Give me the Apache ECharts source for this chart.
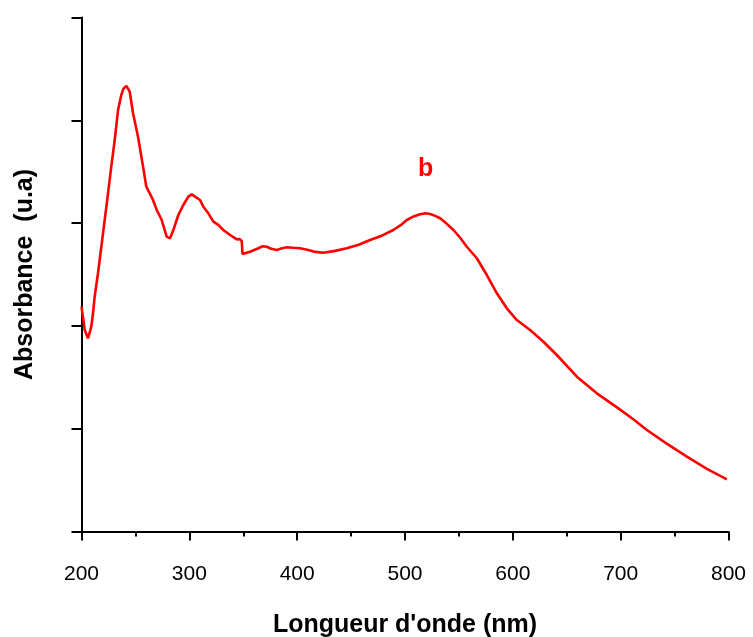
<!DOCTYPE html>
<html>
<head>
<meta charset="utf-8">
<script src="https://cdn.jsdelivr.net/npm/echarts@6/dist/echarts.min.js"></script>
<style>
html,body{margin:0;padding:0;background:#fff;}
#chart{width:753px;height:637px;}
</style>
</head>
<body>
<div id="chart"></div>
<script>
var wavelengths = [200, 203, 206, 209.1, 210.7, 212.2, 215.3, 218.4, 221.5, 224.6, 227.6, 230.8, 233.9, 236.9, 239, 241.6, 244.7, 247.8, 252.4, 257.1, 260.1, 263.3, 266.3, 269.8, 274.4, 279, 282.1, 285.2, 289.8, 294.4, 299.1, 302.2, 305.3, 309.9, 313, 317.6, 322.3, 326.9, 331.5, 337.8, 344, 346.5, 348.6, 349.3, 350.1, 356.3, 364, 368, 371.8, 376, 381.1, 386, 390.4, 396, 402.7, 410.4, 417, 424.3, 435, 446, 457, 467.6, 479, 489.2, 496, 501.7, 508, 514, 519, 523.3, 528, 532.6, 538, 544.9, 551, 557.3, 566.6, 575.9, 585.2, 594.4, 603.7, 616, 628.4, 640.8, 659.4, 677.9, 697.9, 712, 724.3, 742, 761.4, 780, 798.5];
var absorbance = [2.187, 1.96, 1.879, 1.992, 2.123, 2.284, 2.512, 2.77, 3.03, 3.29, 3.549, 3.808, 4.1, 4.246, 4.31, 4.334, 4.278, 4.068, 3.84, 3.549, 3.354, 3.29, 3.225, 3.127, 3.03, 2.868, 2.852, 2.933, 3.079, 3.176, 3.257, 3.28, 3.257, 3.225, 3.16, 3.095, 3.014, 2.982, 2.933, 2.884, 2.842, 2.845, 2.826, 2.70, 2.706, 2.722, 2.755, 2.775, 2.77, 2.75, 2.738, 2.755, 2.765, 2.76, 2.755, 2.738, 2.72, 2.712, 2.73, 2.755, 2.79, 2.836, 2.88, 2.933, 2.98, 3.03, 3.065, 3.086, 3.095, 3.089, 3.07, 3.047, 3.0, 2.933, 2.86, 2.77, 2.658, 2.495, 2.317, 2.171, 2.057, 1.96, 1.846, 1.717, 1.506, 1.344, 1.198, 1.09, 0.987, 0.86, 0.728, 0.61, 0.508];
var xTicks = [200, 300, 400, 500, 600, 700, 800];
var seriesLabel = 'b';

var points = wavelengths.map(function (w, i) { return [w, absorbance[i]]; });

var chart = echarts.init(document.getElementById('chart'), null, {renderer: 'canvas'});
var font = '"Liberation Sans", Arial, sans-serif';
chart.setOption({
  animation: false,
  backgroundColor: '#ffffff',
  grid: {left: 81.5, right: 24.5, top: 17.5, bottom: 105.5, containLabel: false, outerBoundsMode: 'none'},
  xAxis: {
    type: 'value',
    min: xTicks[0],
    max: xTicks[xTicks.length - 1],
    interval: 100,
    name: "Longueur d'onde (nm)",
    nameLocation: 'middle',
    nameGap: 81,
    nameTextStyle: {fontFamily: font, fontWeight: 'bold', fontSize: 25, color: '#000'},
    axisLine: {show: true, onZero: false, lineStyle: {color: '#000', width: 2}},
    axisTick: {show: true, inside: false, length: 9, lineStyle: {color: '#000', width: 2}},
    minorTick: {show: true, splitNumber: 2, length: 5, lineStyle: {color: '#000', width: 2}},
    axisLabel: {show: true, margin: 32, fontFamily: font, fontSize: 21, color: '#000'},
    splitLine: {show: false},
    minorSplitLine: {show: false}
  },
  yAxis: {
    type: 'value',
    min: 0,
    max: 5,
    interval: 1,
    name: 'Absorbance  (u.a)',
    nameLocation: 'middle',
    nameGap: 44,
    nameRotate: 90,
    nameTextStyle: {fontFamily: font, fontWeight: 'bold', fontSize: 25, color: '#000'},
    axisLine: {show: true, onZero: false, lineStyle: {color: '#000', width: 2}},
    axisTick: {show: true, inside: false, length: 10, lineStyle: {color: '#000', width: 2}},
    axisLabel: {show: false},
    splitLine: {show: false}
  },
  graphic: [{
    type: 'text',
    left: 418,
    top: 157,
    style: {text: seriesLabel, fill: '#ff0000', font: 'bold 25px ' + font}
  }],
  series: [{
    type: 'line',
    data: points,
    showSymbol: false,
    smooth: false,
    lineStyle: {color: '#ff0000', width: 2.6},
    itemStyle: {color: '#ff0000'}
  }]
});
</script>
</body>
</html>
